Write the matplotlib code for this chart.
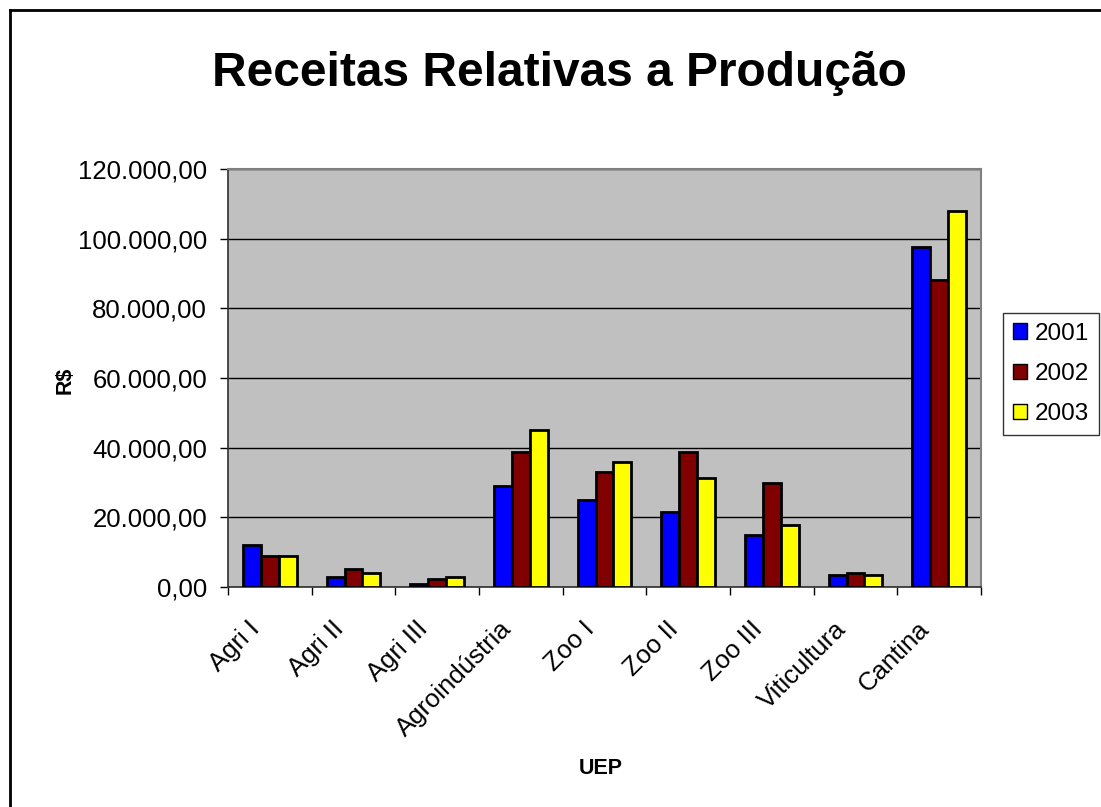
import numpy as np
import matplotlib
matplotlib.use("Agg")
import matplotlib.pyplot as plt
import matplotlib.transforms as mtransforms
from matplotlib.ticker import FuncFormatter, MultipleLocator, FixedLocator
from matplotlib.lines import Line2D

plt.rcParams['font.family'] = ['Liberation Sans', 'DejaVu Sans']

# dados
categorias = ['Agri I', 'Agri II', 'Agri III', 'Agroindústria', 'Zoo I',
              'Zoo II', 'Zoo III', 'Viticultura', 'Cantina']
anos = ['2001', '2002', '2003']
v2001 = [12000, 2900, 1000, 29000, 25000, 21600, 14900, 3400, 97700]
v2002 = [9000, 5100, 2400, 38700, 33000, 38700, 29800, 4000, 88000]
v2003 = [9000, 3900, 2800, 45000, 35900, 31300, 17800, 3400, 108000]
cores = ['#0000FF', '#800000', '#FFFF00']

fig = plt.figure(figsize=(11.01, 8.07), dpi=100)
ax = fig.add_axes([228 / 1101, 1 - 587 / 807, 753 / 1101, 418 / 807])
ax.set_facecolor('#C0C0C0')

x = np.arange(len(categorias))
w = 0.215
for i, (serie, cor, ano) in enumerate(zip([v2001, v2002, v2003], cores, anos)):
    ax.bar(x + (i - 1) * w, serie, w, color=cor, edgecolor='black',
           linewidth=2, label=ano, zorder=3)

ax.set_xlim(-0.5, len(categorias) - 0.5)
ax.set_ylim(0, 120000)
ax.yaxis.set_major_locator(MultipleLocator(20000))
ax.yaxis.set_major_formatter(FuncFormatter(
    lambda v, p: f"{v:,.2f}".replace(',', 'X').replace('.', ',').replace('X', '.')))
ax.grid(axis='y', color='black', linewidth=1, zorder=1)

# ticks nas divisas, rótulos no centro
ax.xaxis.set_major_locator(FixedLocator(np.arange(-0.5, len(categorias), 1)))
ax.xaxis.set_major_formatter(FuncFormatter(lambda v, p: ''))
ax.xaxis.set_minor_locator(FixedLocator(x))
ax.set_xticklabels(categorias, minor=True, rotation=45, ha='right',
                   rotation_mode='anchor', fontsize=18.5)
ax.tick_params(axis='x', which='minor', length=0, pad=12)
ax.tick_params(axis='x', which='major', length=6, width=1, direction='out')
ax.tick_params(axis='y', length=6, width=1, direction='out', labelsize=18.5, pad=9)

desloc = mtransforms.ScaledTranslation(-22 / 100, -13 / 100, fig.dpi_scale_trans)
for lbl in ax.get_xticklabels(minor=True):
    lbl.set_transform(lbl.get_transform() + desloc)

for s in ['top', 'right']:
    ax.spines[s].set_color('#808080')
    ax.spines[s].set_linewidth(1.5)
for s in ['left', 'bottom']:
    ax.spines[s].set_color('#303030')
    ax.spines[s].set_linewidth(1.2)

fig.text(65 / 1101, 1 - 380 / 807, 'R$', rotation=90, ha='center', va='center',
         fontsize=15.5, fontweight='bold')
fig.text(601 / 1101, 1 - 768 / 807, 'UEP', ha='center', va='center',
         fontsize=15.5, fontweight='bold')

fig.text(0.508, 1 - 73 / 807, 'Receitas Relativas a Produção', ha='center',
         va='center', fontsize=34.5, fontweight='bold')

leg = ax.legend(loc='upper left', bbox_to_anchor=(1003 / 1101, 1 - 313 / 807),
                bbox_transform=fig.transFigure, fontsize=17.5, frameon=True,
                fancybox=False, shadow=False, handlelength=0.6, handleheight=0.6,
                handletextpad=0.3, labelspacing=0.75, borderpad=0.4,
                borderaxespad=0)
leg.get_frame().set_edgecolor('black')
leg.get_frame().set_linewidth(1)
for h in leg.legend_handles:
    h.set_linewidth(1)

# moldura externa
fig.add_artist(Line2D([10 / 1101, 10 / 1101], [0, 1 - 10 / 807],
                      transform=fig.transFigure, color='black', linewidth=2))
fig.add_artist(Line2D([10 / 1101, 1], [1 - 10 / 807, 1 - 10 / 807],
                      transform=fig.transFigure, color='black', linewidth=2))

fig.savefig('out.png', dpi=100)
